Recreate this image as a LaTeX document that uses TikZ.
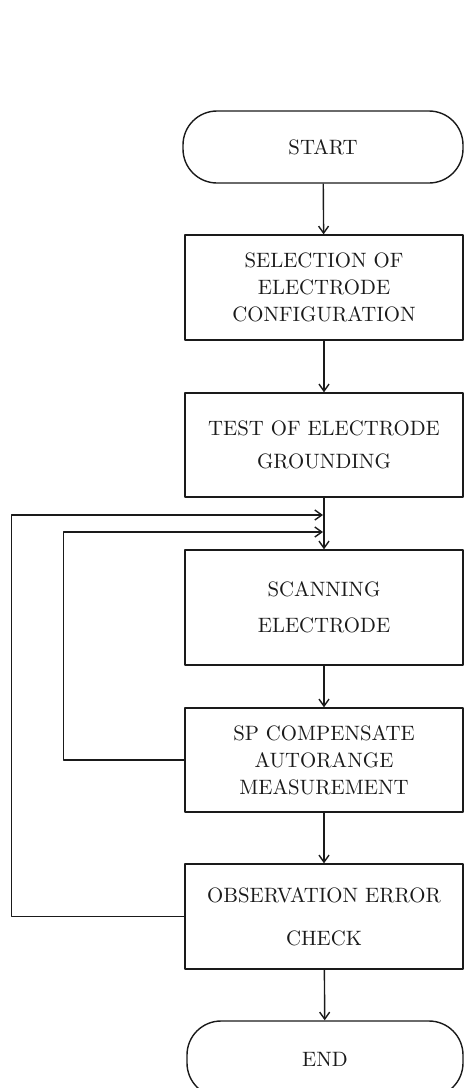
\documentclass[tikz,border=0pt]{standalone}
\usetikzlibrary{arrows.meta}
\definecolor{chartline}{HTML}{1A1A1A}

\begin{document}
\begin{tikzpicture}[
  x=0.5pt,
  y=-0.5pt,
  line join=round,
  terminal/.style={draw=chartline,line width=0.7pt,rounded corners=17pt,
    minimum width=140pt,minimum height=36pt,inner sep=0pt,
    font=\fontsize{10.4}{12.5}\selectfont,text=chartline},
  process/.style={draw=chartline,line width=0.7pt,
    minimum width=139pt,minimum height=52pt,inner sep=0pt,align=center,
    font=\fontsize{10.4}{12.5}\selectfont,text=chartline},
  flow/.style={draw=chartline,line width=0.7pt,
    -{Straight Barb[length=3.5pt,width=5pt,line width=0.7pt]}}
]
  % Page frame in reference pixels.
  \useasboundingbox (0,0) rectangle (465,1088);

  % Main column of the chart.
  \node[terminal] (start) at (323,147) {START};
  \node[process,minimum height=52.5pt] (select) at (324,287.5)
    {SELECTION OF\\[1pt]ELECTRODE\\[1pt]CONFIGURATION};
  \node[process] (test) at (324,445)
    {TEST OF ELECTRODE\\[4pt]GROUNDING};
  \node[process,minimum height=57.5pt] (scan) at (324,607.5)
    {SCANNING\\[5.5pt]ELECTRODE};
  \node[process] (comp) at (324,760)
    {SP COMPENSATE\\[1pt]AUTORANGE\\[1pt]MEASUREMENT};
  \node[process,minimum height=52.5pt] (obs) at (324,916.5)
    {OBSERVATION ERROR\\[9pt]CHECK};
  \node[terminal,minimum width=138pt,minimum height=38pt] (end) at (325,1059) {END};

  % Entry points of the two return loops.
  \coordinate (joinouter) at (323,515);
  \coordinate (joininner) at (323,532);

  \draw[flow] (start) -- (select);
  \draw[flow] (select) -- (test);
  \draw[flow] (test) -- (scan);
  \draw[flow] (scan) -- (comp);
  \draw[flow] (comp) -- (obs);
  \draw[flow] (obs) -- (end);

  % Return loops to the scanning step.
  \draw[flow] (comp.west) -- ++(-121,0) |- (joininner);
  \draw[flow] (obs.west) -- ++(-173,0) |- (joinouter);
\end{tikzpicture}
\end{document}
